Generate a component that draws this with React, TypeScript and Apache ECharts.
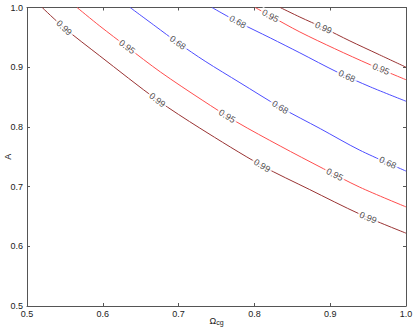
import React, { useEffect, useRef } from "react";
import * as echarts from "echarts";

// Contour lines (x = Ω_cg, y = A)
const lo99X = [0.52, 0.549, 0.596, 0.672, 0.728, 0.81, 0.873, 0.939, 1.0];
const lo99Y = [1.0, 0.966, 0.919, 0.845, 0.798, 0.735, 0.695, 0.654, 0.622];
const lo95X = [0.566, 0.596, 0.632, 0.676, 0.731, 0.777, 0.834, 0.891, 0.939, 1.0];
const lo95Y = [1.0, 0.969, 0.934, 0.892, 0.845, 0.808, 0.768, 0.73, 0.699, 0.666];
const lo68X = [0.636, 0.669, 0.699, 0.735, 0.781, 0.834, 0.887, 0.939, 1.0];
const lo68Y = [1.0, 0.969, 0.941, 0.91, 0.874, 0.833, 0.797, 0.761, 0.726];
const up68X = [0.744, 0.778, 0.821, 0.86, 0.909, 0.953, 1.0];
const up68Y = [1.0, 0.976, 0.949, 0.924, 0.892, 0.867, 0.843];
const up95X = [0.801, 0.821, 0.86, 0.906, 0.953, 1.0];
const up95Y = [1.0, 0.986, 0.959, 0.931, 0.904, 0.879];
const up99X = [0.834, 0.86, 0.891, 0.926, 0.963, 1.0];
const up99Y = [1.0, 0.984, 0.966, 0.944, 0.922, 0.9];

// Inline contour label positions
const lo99LabX = [0.549, 0.672, 0.81, 0.95];
const lo99LabY = [0.966, 0.845, 0.735, 0.648];
const lo95LabX = [0.632, 0.764, 0.906];
const lo95LabY = [0.934, 0.818, 0.72];
const lo68LabX = [0.699, 0.834, 0.976];
const lo68LabY = [0.941, 0.833, 0.74];
const up68LabX = [0.778, 0.922];
const up68LabY = [0.976, 0.885];
const up95LabX = [0.821, 0.967];
const up95LabY = [0.986, 0.897];
const up99LabX = [0.891];
const up99LabY = [0.966];

const levelTexts = ["0.99", "0.95", "0.68", "0.68", "0.95", "0.99"];

const axisMin = 0.5;
const axisMax = 1.0;
const tickStep = 0.1;

const DARK = "#993333";
const RED = "#ff4d4d";
const BLUE = "#4d4dff";

const curves = [
  { xs: lo99X, ys: lo99Y, lx: lo99LabX, ly: lo99LabY, color: DARK },
  { xs: lo95X, ys: lo95Y, lx: lo95LabX, ly: lo95LabY, color: RED },
  { xs: lo68X, ys: lo68Y, lx: lo68LabX, ly: lo68LabY, color: BLUE },
  { xs: up68X, ys: up68Y, lx: up68LabX, ly: up68LabY, color: BLUE },
  { xs: up95X, ys: up95Y, lx: up95LabX, ly: up95LabY, color: RED },
  { xs: up99X, ys: up99Y, lx: up99LabX, ly: up99LabY, color: DARK },
];

const FONT = "Liberation Sans, Arial, Helvetica, sans-serif";
const AXIS_COLOR = "#555";

function buildOption(angleFor: (ci: number, x: number) => number) {
  const lineSeries = curves.map((c) => ({
    type: "line",
    data: c.xs.map((x, i) => [x, c.ys[i]]),
    symbol: "none",
    smooth: 0.3,
    lineStyle: { color: c.color, width: 1 },
    xAxisIndex: 0,
    yAxisIndex: 0,
    z: 2,
    silent: true,
  }));
  const labelSeries = curves.map((c, ci) => ({
    type: "scatter",
    xAxisIndex: 0,
    yAxisIndex: 0,
    symbolSize: 1,
    itemStyle: { color: "rgba(0,0,0,0)" },
    z: 5,
    silent: true,
    data: c.lx.map((x, i) => ({
      value: [x, c.ly[i]],
      label: {
        show: true,
        position: "inside",
        formatter: levelTexts[ci],
        rotate: angleFor(ci, x),
        color: "#222",
        fontSize: 9,
        fontFamily: FONT,
        backgroundColor: "#fff",
        padding: [0, 2, 0, 2],
      },
    })),
  }));

  const commonAxis = {
    type: "value",
    min: axisMin,
    max: axisMax,
    interval: tickStep,
    splitLine: { show: false },
    axisLine: { show: true, onZero: false, lineStyle: { color: AXIS_COLOR, width: 1 } },
    axisTick: { show: true, inside: true, length: 3, lineStyle: { color: AXIS_COLOR } },
  };

  return {
    animation: false,
    backgroundColor: "#fff",
    grid: { left: 27, right: 9, top: 7.5, bottom: 25, containLabel: false, outerBoundsMode: "none" },
    xAxis: [
      {
        ...commonAxis,
        position: "bottom",
        axisLabel: {
          margin: 3,
          fontSize: 9,
          fontFamily: FONT,
          color: "#222",
          formatter: (v: number) => v.toFixed(1),
        },
        name: "{o|Ω}{s|cg}",
        nameLocation: "middle",
        nameGap: 10,
        nameMoveOverlap: false,
        nameTextStyle: {
          rich: {
            o: { fontSize: 9, fontFamily: FONT, color: "#222", verticalAlign: "top", lineHeight: 10 },
            s: { fontSize: 7, fontFamily: FONT, color: "#222", verticalAlign: "bottom", lineHeight: 7, padding: [5, 0, 0, 0] },
          },
        },
      },
      {
        ...commonAxis,
        position: "top",
        axisLabel: { show: false },
      },
    ],
    yAxis: [
      {
        ...commonAxis,
        position: "left",
        axisLabel: {
          margin: 4,
          fontSize: 9,
          fontFamily: FONT,
          color: "#222",
          formatter: (v: number) => v.toFixed(1),
        },
        name: "A",
        nameLocation: "middle",
        nameRotate: 90,
        nameGap: 15,
        nameMoveOverlap: false,
        nameTextStyle: { fontSize: 9, fontFamily: FONT, color: "#222" },
      },
      {
        ...commonAxis,
        position: "right",
        axisLabel: { show: false },
      },
    ],
    series: [...lineSeries, ...labelSeries],
  };
}

export default function App() {
  const ref = useRef<HTMLDivElement>(null);
  useEffect(() => {
    if (!ref.current) return;
    const chart = echarts.init(ref.current, null, { renderer: "svg" });
    chart.setOption(buildOption(() => 0));
    const angleFor = (ci: number, x: number) => {
      const c = curves[ci];
      let i = 0;
      while (i < c.xs.length - 2 && x > c.xs[i + 1]) i++;
      const p1 = chart.convertToPixel({ gridIndex: 0 } as any, [c.xs[i], c.ys[i]]) as number[];
      const p2 = chart.convertToPixel({ gridIndex: 0 } as any, [c.xs[i + 1], c.ys[i + 1]]) as number[];
      return (-Math.atan2(p2[1] - p1[1], p2[0] - p1[0]) * 180) / Math.PI;
    };
    chart.setOption(buildOption(angleFor), true);
    return () => chart.dispose();
  }, []);
  return (
    <div
      ref={ref}
      style={{ position: "fixed", left: 0, top: 0, width: 415, height: 331, background: "#fff" }}
    />
  );
}
